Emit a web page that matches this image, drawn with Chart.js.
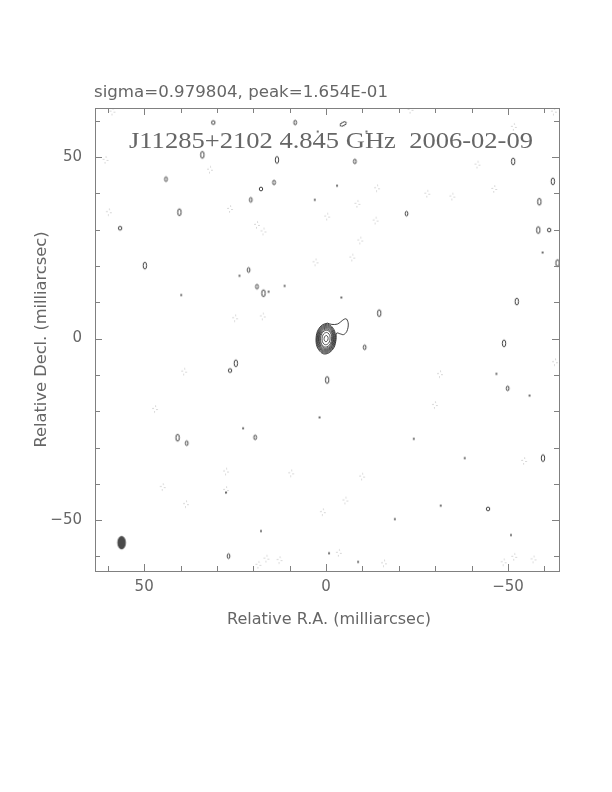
<!DOCTYPE html>
<html>
<head>
<meta charset="utf-8">
<script src="https://cdn.jsdelivr.net/npm/chart.js@4.4.1/dist/chart.umd.min.js"></script>
<style>
  html, body { margin: 0; padding: 0; background: #fff; }
  #wrap { width: 612px; height: 792px; }
</style>
</head>
<body>
<div id="wrap"><canvas id="map" width="612" height="792"></canvas></div>
<script>
// all positions in milliarcsec (x = relative R.A., y = relative Decl.)
const sigmaText = 'sigma=0.979804, peak=1.654E-01'
const titleText = 'J11285+2102 4.845 GHz  2006-02-09'
const xTitle = 'Relative R.A. (milliarcsec)'
const yTitle = 'Relative Decl. (milliarcsec)'
const labelledTicks = [50, 0, -50]

// outermost core contour, including the jet blob to the north-west
const coreOuter = [
  [-0.4, 4.25], [1.0, 3.8], [2.2, 2.4], [2.75, 0.2], [2.5, -2.2], [1.4, -3.8],
  [0.4, -4.25], [-1.0, -3.8], [-2.2, -2.4], [-2.75, -0.2], [-2.9, 1.5],
  [-3.9, 1.3], [-4.8, 1.1], [-5.7, 2.0], [-6.1, 4.0], [-5.6, 5.4],
  [-4.9, 5.3], [-4.0, 4.6], [-3.1, 4.0], [-1.6, 3.9]
]
// inner core contours: same outline, shrunk by these factors
const coreShape = [
  [-0.4, 4.25], [1.0, 3.8], [2.2, 2.4], [2.75, 0.2], [2.5, -2.2], [1.4, -3.8],
  [0.4, -4.25], [-1.0, -3.8], [-2.2, -2.4], [-2.75, -0.2], [-2.5, 2.2], [-1.4, 3.8]
]
const coreLevels = [0.94, 0.88, 0.82, 0.76, 0.7, 0.63, 0.55, 0.4, 0.2]

// small positive contours (solid)
const posLarge = [
  [34.0, 50.6], [49.8, 20.1], [40.3, 34.8], [17.2, 12.5], [13.5, 49.2], [-51.4, 48.8],
  [-58.6, 37.7], [-58.3, 29.9], [-14.6, 7.0], [24.8, -6.8], [-0.3, -11.4], [40.8, -27.3],
  [-62.3, 43.3], [-52.4, 10.2], [-59.6, -32.9], [-48.9, -1.3], [-63.6, 20.8]
]
const posMedium = [
  [8.5, 59.5], [44.0, 43.9], [14.3, 43.0], [20.7, 38.2], [21.3, 18.9], [-7.9, 48.8],
  [-22.1, 34.4], [38.3, -28.8], [19.5, -27.2], [26.8, -59.9], [-10.6, -2.4],
  [-49.9, -13.7], [19.0, 14.3]
]
const posRound = [
  [31.0, 59.5], [56.6, 30.4], [17.9, 41.2], [-61.3, 29.9], [-44.5, -46.9], [26.4, -8.8]
]
const posTiny = [
  [2.3, 57.0], [3.1, 38.2], [23.8, 17.3], [15.8, 12.9], [11.4, 14.5], [39.8, 12.0],
  [-11.1, 57.0], [-3.0, 42.1], [-59.5, 23.7], [-4.2, 11.3], [1.8, -21.7], [22.8, -24.7],
  [17.9, -53.0], [-0.8, -59.1], [-46.8, -9.7], [-55.9, -15.7], [-24.1, -27.6],
  [-38.1, -32.9], [-31.5, -46.0], [-18.9, -49.7], [-50.8, -54.1], [-8.8, -61.5], [27.5, -42.4]
]
const posTilted = [[-4.7, 59.1]]

// negative contours (dotted)
const negContours = [
  [60.6, 49.2], [31.9, 46.5], [59.7, 34.8], [26.4, 35.7], [-0.3, 33.6], [19.0, 31.3],
  [17.2, 29.5], [2.9, 21.0], [25.0, 5.6], [17.4, 6.1], [-23.2, 63.0], [-51.6, 58.3],
  [-62.6, 62.5], [-41.6, 47.9], [-14.0, 41.4], [-27.8, 39.9], [-34.7, 39.1], [-46.2, 41.2],
  [-8.6, 37.1], [-13.6, 32.5], [-9.4, 27.0], [-7.2, 22.3], [39.0, -9.1], [47.0, -19.4],
  [27.5, -36.6], [9.6, -37.1], [27.5, -41.7], [44.9, -40.9], [38.5, -45.6], [0.9, -47.8],
  [16.4, -60.6], [12.8, -61.0], [18.6, -62.3], [-31.3, -9.8], [-62.9, -6.5], [-29.9, -18.3],
  [-54.4, -33.7], [-9.9, -38.0], [-5.3, -44.6], [-3.5, -59.0], [-15.9, -61.9],
  [-51.7, -60.1], [-48.8, -61.6], [-57.0, -60.8], [58.7, 62.5]
]

// restoring beam, lower-left corner
const beamPos = [[56.2, -56.2]]

// ---------------------------------------------------------------

const toPts = arr => arr.map(([x, y]) => ({ x, y }))
const closeLoop = arr => toPts(arr.concat([arr[0]]))

// little canvases used as point styles for the small contours
function ellipseMark(w, h, opts) {
  const c = document.createElement('canvas')
  c.width = Math.ceil(w) + 4
  c.height = Math.ceil(h) + 4
  const g = c.getContext('2d')
  g.beginPath()
  g.ellipse(c.width / 2, c.height / 2, w / 2, h / 2, 0, 0, Math.PI * 2)
  if (opts.fill) {
    g.fillStyle = opts.fill
    g.fill()
  }
  if (opts.stroke) {
    g.strokeStyle = opts.stroke
    g.lineWidth = opts.width || 1
    if (opts.dash) g.setLineDash(opts.dash)
    g.stroke()
  }
  return c
}

const lineColor = '#2a2a2a'
const markLarge = ellipseMark(3.4, 7, { stroke: lineColor, width: 0.9 })
const markMedium = ellipseMark(2.6, 4.8, { stroke: lineColor, width: 0.9 })
const markRound = ellipseMark(3.4, 3.8, { stroke: lineColor, width: 0.9 })
const markTiny = ellipseMark(1.4, 2.6, { fill: '#333' })
const markTilted = ellipseMark(3.4, 7, { stroke: lineColor, width: 0.9 })
const markNeg = ellipseMark(4, 6, { stroke: '#8a8a8a', width: 0.9, dash: [0.8, 3.2] })
const markBeam = ellipseMark(7.6, 12.6, { fill: '#4a4a4a', stroke: '#333', width: 0.8 })

function contourSet(points, width) {
  return {
    data: points, showLine: true, pointRadius: 0, borderColor: lineColor,
    borderWidth: width, tension: 0.35, fill: false
  }
}
function markSet(points, mark, rotation) {
  return {
    data: toPts(points), showLine: false, pointStyle: mark, pointRadius: 3,
    pointRotation: rotation || 0, pointHoverRadius: 3
  }
}

const datasets = [contourSet(closeLoop(coreOuter), 0.9)]
coreLevels.forEach(k => {
  const shrunk = coreShape.map(([x, y]) => [x * k, y * k])
  datasets.push(contourSet(closeLoop(shrunk), 0.8))
})
datasets.push(
  markSet(posLarge, markLarge),
  markSet(posMedium, markMedium),
  markSet(posRound, markRound),
  markSet(posTiny, markTiny),
  markSet(posTilted, markTilted, 62),
  markSet(negContours, markNeg),
  markSet(beamPos, markBeam)
)

// frame with inward ticks on all four sides
const frameTicks = {
  id: 'frameTicks',
  afterDatasetsDraw(chart) {
    const { ctx, chartArea: a, scales: { x, y } } = chart
    ctx.save()
    ctx.strokeStyle = '#808080'
    ctx.lineWidth = 1
    ctx.strokeRect(a.left + 0.5, a.top + 0.5, a.right - a.left, a.bottom - a.top)
    ctx.beginPath()
    x.ticks.forEach(t => {
      const px = Math.round(x.getPixelForValue(t.value)) + 0.5
      const len = t.value % 50 === 0 ? 7 : 5
      ctx.moveTo(px, a.bottom); ctx.lineTo(px, a.bottom - len)
      ctx.moveTo(px, a.top); ctx.lineTo(px, a.top + len)
    })
    y.ticks.forEach(t => {
      const py = Math.round(y.getPixelForValue(t.value)) + 0.5
      const len = t.value % 50 === 0 ? 7 : 5
      ctx.moveTo(a.left, py); ctx.lineTo(a.left + len, py)
      ctx.moveTo(a.right, py); ctx.lineTo(a.right - len, py)
    })
    ctx.stroke()
    ctx.restore()
  }
}

// stretch a string to a given width (the original uses a wide vector font)
function fitText(ctx, text, x, y, width, font, align) {
  ctx.font = font
  const w = ctx.measureText(text).width
  ctx.save()
  ctx.translate(x, y)
  ctx.scale(width / w, 1)
  ctx.textAlign = align
  ctx.fillText(text, 0, 0)
  ctx.restore()
}

const textColor = '#666'

const labels = {
  id: 'labels',
  afterDraw(chart) {
    const ctx = chart.ctx
    ctx.save()
    ctx.fillStyle = textColor
    ctx.textBaseline = 'alphabetic'
    fitText(ctx, sigmaText, 94, 97, 294, '15.5px "DejaVu Sans"', 'left')
    fitText(ctx, titleText, 129, 148, 404, '23px "Liberation Serif"', 'left')
    fitText(ctx, xTitle, 329, 624, 204, '15px "DejaVu Sans"', 'center')
    ctx.translate(45.5, 339.5)
    ctx.rotate(-Math.PI / 2)
    fitText(ctx, yTitle, 0, 0, 216, '15px "DejaVu Sans"', 'center')
    ctx.restore()
  }
}

const tickFont = { family: 'DejaVu Sans', size: 15 }
const tickLabel = v => labelledTicks.includes(v) ? String(v).replace('-', '\u2212') : ''

new Chart(document.getElementById('map'), {
  type: 'scatter',
  data: { datasets },
  options: {
    responsive: false,
    animation: false,
    devicePixelRatio: 1,
    layout: { padding: { top: 108, right: 53, left: 0, bottom: 0 } },
    plugins: { legend: { display: false }, tooltip: { enabled: false } },
    scales: {
      x: {
        type: 'linear', reverse: true, min: -64, max: 63.5,
        grid: { display: false, drawTicks: false },
        border: { display: false },
        ticks: {
          stepSize: 10, includeBounds: false, autoSkip: false, maxRotation: 0,
          padding: 7, color: textColor, font: tickFont, callback: tickLabel
        },
        afterFit: s => { s.height = 221 }
      },
      y: {
        type: 'linear', min: -64, max: 63.5,
        grid: { display: false, drawTicks: false },
        border: { display: false },
        ticks: {
          stepSize: 10, includeBounds: false, autoSkip: false,
          padding: 13, color: textColor, font: tickFont, callback: tickLabel
        },
        afterFit: s => { s.width = 95 }
      }
    }
  },
  plugins: [frameTicks, labels]
})
</script>
</body>
</html>
